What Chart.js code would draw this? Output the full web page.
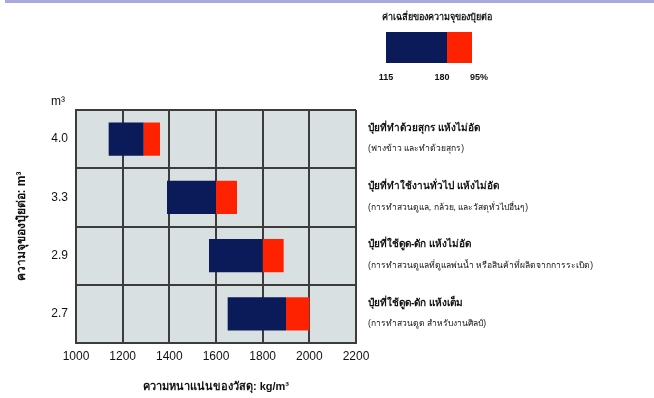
<!DOCTYPE html>
<html>
<head>
<meta charset="utf-8">
<script src="https://cdn.jsdelivr.net/npm/chart.js@4"></script>
<style>
    body { margin: 0; background: #fff; }
    #wrap { position: relative; width: 654px; height: 398px; }
</style>
</head>
<body>
<div id="wrap"><canvas id="chart" width="654" height="398"></canvas></div>
<script>
// ข้อมูล
const categories = ['4.0', '3.3', '2.9', '2.7'];
const densityStart = [1140, 1390, 1570, 1650];
const densityMid = [1290, 1600, 1800, 1900];
const densityEnd = [1360, 1690, 1890, 2000];

const rightTitles = [
    'ปุ๋ยที่ทำด้วยสุกร แห้งไม่อัด',
    'ปุ๋ยที่ทำใช้งานทั่วไป แห้งไม่อัด',
    'ปุ๋ยที่ใช้ดูด-ดัก แห้งไม่อัด',
    'ปุ๋ยที่ใช้ดูด-ดัก แห้งเต็ม'
];
const rightNotes = [
    '(ฟางข้าว และทำด้วยสุกร)',
    '(การทำสวนดูแล, กล้วย, และวัสดุทั่วไปอื่นๆ)',
    '(การทำสวนดูแลที่ดูแลพ่นน้ำ หรือสินค้าที่ผลิตจากการระเบิด)',
    '(การทำสวนดูด สำหรับงานศิลป์)'
];
const legendTitle = 'ค่าเฉลี่ยของความจุของปุ๋ยต่อ';
const legendTicks = ['115', '180', '95%'];

const navy = '#0b1a58';
const red = '#ff2200';
const gridColor = '#3c3c3c';
const font = '"Liberation Sans", Arial, sans-serif';

const navyData = categories.map((c, i) => [densityStart[i], densityMid[i]]);
const redData = categories.map((c, i) => [densityMid[i], densityEnd[i]]);

const extras = {
    id: 'extras',
    beforeDraw(chart) {
        const {ctx, chartArea} = chart;
        ctx.save();
        ctx.fillStyle = '#d9e0e1';
        ctx.fillRect(chartArea.left, chartArea.top, chartArea.right - chartArea.left, chartArea.bottom - chartArea.top);
        // เส้นด้านบน
        ctx.fillStyle = '#a9a9de';
        ctx.fillRect(5, 0, 649, 3);
        ctx.restore();
    },
    afterDraw(chart) {
        const {ctx} = chart;
        const y = chart.scales.y;
        ctx.save();
        ctx.fillStyle = '#111';
        ctx.textBaseline = 'middle';

        // หน่วย m³ เหนือแกน
        ctx.textAlign = 'center';
        ctx.font = '12px ' + font;
        ctx.fillText('m³', 58, 102);

        // คำอธิบายด้านขวา
        ctx.textAlign = 'left';
        categories.forEach((c, i) => {
            const cy = y.getPixelForValue(i);
            ctx.font = 'bold 10px ' + font;
            ctx.fillText(rightTitles[i], 368, cy - 11);
            ctx.font = '8.5px ' + font;
            ctx.fillText(rightNotes[i], 368, cy + 10);
        });

        // คำอธิบายสัญลักษณ์
        ctx.textAlign = 'center';
        ctx.font = 'bold 9px ' + font;
        ctx.fillText(legendTitle, 437, 18);
        ctx.fillStyle = navy;
        ctx.fillRect(386, 32, 61, 31);
        ctx.fillStyle = red;
        ctx.fillRect(447, 32, 25, 31);
        ctx.fillStyle = '#111';
        ctx.font = 'bold 9px ' + font;
        ctx.fillText(legendTicks[0], 386, 78);
        ctx.fillText(legendTicks[1], 442, 78);
        ctx.fillText(legendTicks[2], 479, 78);
        ctx.restore();
    }
};

new Chart(document.getElementById('chart'), {
    type: 'bar',
    data: {
        labels: categories,
        datasets: [
            {data: navyData, backgroundColor: navy, grouped: false, barPercentage: 0.57, categoryPercentage: 1},
            {data: redData, backgroundColor: red, grouped: false, barPercentage: 0.57, categoryPercentage: 1}
        ]
    },
    options: {
        indexAxis: 'y',
        responsive: false,
        animation: false,
        layout: {padding: {left: 14, right: 298, top: 110, bottom: 0}},
        plugins: {
            legend: {display: false},
            tooltip: {enabled: false}
        },
        scales: {
            x: {
                min: 1000,
                max: 2200,
                ticks: {stepSize: 200, color: '#111', font: {family: font, size: 12}, padding: 6, callback: v => String(v)},
                grid: {color: gridColor, lineWidth: 2, drawTicks: false},
                border: {color: gridColor, width: 2},
                title: {
                    display: true,
                    text: 'ความหนาแน่นของวัสดุ: kg/m³',
                    color: '#111',
                    font: {family: font, size: 11, weight: 'bold'},
                    padding: {top: 12}
                },
                afterFit(scale) { scale.height = 55; }
            },
            y: {
                ticks: {color: '#111', font: {family: font, size: 12}, padding: 8},
                grid: {color: gridColor, lineWidth: 2, drawTicks: false, offset: true},
                border: {color: gridColor, width: 2},
                title: {
                    display: true,
                    text: 'ความจุของปุ๋ยต่อ: m³',
                    color: '#111',
                    font: {family: font, size: 12, weight: 'bold'},
                    padding: 0
                },
                afterFit(scale) { scale.width = 62; }
            }
        }
    },
    plugins: [extras]
});
</script>
</body>
</html>
